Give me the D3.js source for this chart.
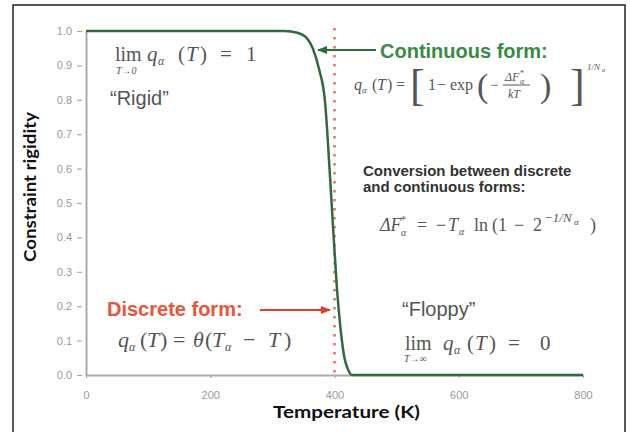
<!DOCTYPE html>
<html>
<head>
<meta charset="utf-8">
<script src="https://cdn.jsdelivr.net/npm/d3@7/dist/d3.min.js"></script>
<style>
  body { margin: 0; background: #fff; }
  svg { display: block; }
</style>
</head>
<body>
<div id="chart"></div>
<script>
// chart values
var temps    = [0, 320, 340, 355, 365, 375, 385, 392, 398, 404, 410, 416, 422, 428, 800];
var rigidity = [1, 1, 0.995, 0.98, 0.95, 0.89, 0.79, 0.60, 0.42, 0.25, 0.13, 0.05, 0.015, 0, 0];
var criticalT = 400;
var xTicks = [0, 200, 400, 600, 800];
var yTicks = [0, 0.1, 0.2, 0.3, 0.4, 0.5, 0.6, 0.7, 0.8, 0.9, 1.0];

var svgWidth = 630, svgHeight = 432;
var serif = "'Liberation Serif', 'DejaVu Serif', serif";
var sans = "'Liberation Sans', Arial, sans-serif";
var mathColor = "#555";

var svg = d3.select("#chart").append("svg")
  .attr("width", svgWidth)
  .attr("height", svgHeight);

var defs = svg.append("defs");
function arrowMarker(id, color) {
  defs.append("marker")
    .attr("id", id)
    .attr("viewBox", "0 0 10 10")
    .attr("refX", 9).attr("refY", 5)
    .attr("markerWidth", 5).attr("markerHeight", 5)
    .attr("orient", "auto")
    .append("path")
    .attr("d", "M0,1 L10,5 L0,9 Z")
    .attr("fill", color);
}
arrowMarker("arrGreen", "#2f6b3c");
arrowMarker("arrRed", "#e03c28");

// outer frame
svg.append("rect")
  .attr("x", 13).attr("y", 5)
  .attr("width", 612).attr("height", 440)
  .attr("fill", "none")
  .attr("stroke", "#222")
  .attr("stroke-width", 1.5);

var xScale = d3.scaleLinear().domain([0, 800]).range([86, 583]);
var yScale = d3.scaleLinear().domain([0, 1]).range([375, 31]);

// axes
var yAxis = d3.axisLeft(yScale)
  .tickValues(yTicks)
  .tickFormat(d3.format(".1f"))
  .tickSizeInner(5).tickSizeOuter(0)
  .tickPadding(9);
var xAxis = d3.axisBottom(xScale)
  .tickValues(xTicks)
  .tickSizeInner(3).tickSizeOuter(0)
  .tickPadding(13);

var gy = svg.append("g")
  .attr("transform", "translate(" + xScale(0) + ",0)")
  .call(yAxis);
gy.selectAll(".tick line").attr("x1", -4).attr("x2", -9);

var gx = svg.append("g")
  .attr("transform", "translate(0," + yScale(0) + ")")
  .call(xAxis);

[gx, gy].forEach(function(g) {
  g.select(".domain").attr("stroke", "#aaa").attr("stroke-width", 2);
  g.selectAll(".tick line").attr("stroke", "#aaa").attr("stroke-width", 1.2);
  g.selectAll(".tick text")
    .attr("fill", "#999")
    .style("font-family", sans)
    .style("font-size", "11px");
});

// discrete form: dotted step at Tc
svg.append("line")
  .attr("x1", xScale(criticalT)).attr("x2", xScale(criticalT))
  .attr("y1", yScale(1) - 3).attr("y2", yScale(0))
  .attr("stroke", "#ec6f66")
  .attr("stroke-width", 2.5)
  .attr("stroke-dasharray", "2.5,6.5");

// continuous form curve
var line = d3.line()
  .x(function(d, i) { return xScale(temps[i]); })
  .y(function(d) { return yScale(d); })
  .curve(d3.curveMonotoneX);

svg.append("path")
  .datum(rigidity)
  .attr("d", line)
  .attr("fill", "none")
  .attr("stroke", "#2f6b3c")
  .attr("stroke-width", 2.5);

// axis titles
svg.append("text")
  .attr("x", 273).attr("y", 418)
  .attr("textLength", 147)
  .attr("lengthAdjust", "spacingAndGlyphs")
  .style("font-family", "Lato, 'DejaVu Sans', sans-serif")
  .style("font-weight", "bold")
  .style("font-size", "17px")
  .attr("fill", "#111")
  .text("Temperature (K)");

svg.append("text")
  .attr("transform", "translate(36,262) rotate(-90)")
  .attr("textLength", 150)
  .attr("lengthAdjust", "spacingAndGlyphs")
  .style("font-family", "Lato, 'DejaVu Sans', sans-serif")
  .style("font-weight", "bold")
  .style("font-size", "17px")
  .attr("fill", "#111")
  .text("Constraint rigidity");

// helper for placing text pieces
function put(x, y, str, opts) {
  opts = opts || {};
  return svg.append("text")
    .attr("x", x).attr("y", y)
    .style("font-family", opts.family || serif)
    .style("font-size", (opts.size || 16) + "px")
    .style("font-style", opts.italic ? "italic" : "normal")
    .style("font-weight", opts.bold ? "bold" : "normal")
    .attr("fill", opts.color || mathColor)
    .text(str);
}

// lim T->0 q(T) = 1
put(115, 61, "lim", {size: 20});
put(116, 74, "T→0", {size: 10, italic: true});
put(147, 61, "q", {size: 21, italic: true});
put(158, 65, "α", {size: 12, italic: true});
put(178, 61, "(", {size: 21});
put(186, 61, "T", {size: 21, italic: true});
put(200, 61, ")", {size: 21});
put(220, 61, "=", {size: 21});
put(246, 61, "1", {size: 21});
put(110, 105, "\u201CRigid\u201D", {family: sans, size: 20});

// continuous form annotation
put(380, 58, "Continuous form:", {family: sans, size: 20, bold: true, color: "#3a8a45"});
svg.append("line")
  .attr("x1", 376).attr("y1", 50)
  .attr("x2", 318).attr("y2", 50)
  .attr("stroke", "#2f6b3c").attr("stroke-width", 2)
  .attr("marker-end", "url(#arrGreen)");

put(354, 90, "q", {size: 16, italic: true});
put(362, 93, "α", {size: 9, italic: true});
put(372, 90, "(", {size: 16});
put(377, 90, "T", {size: 16, italic: true});
put(387, 90, ")", {size: 16});
put(396, 90, "=", {size: 16});
put(410, 100, "[", {size: 44});
put(428, 90, "1", {size: 16});
put(437, 90, "−", {size: 16});
put(450, 90, "exp", {size: 16});
put(477, 97, "(", {size: 34});
put(490, 90, "−", {size: 15});
put(505, 81, "ΔF", {size: 12, italic: true});
put(520, 76, "*", {size: 8});
put(520, 84, "α", {size: 8, italic: true});
svg.append("line")
  .attr("x1", 503).attr("x2", 530)
  .attr("y1", 85).attr("y2", 85)
  .attr("stroke", mathColor).attr("stroke-width", 1);
put(508, 98, "kT", {size: 12, italic: true});
put(540, 97, ")", {size: 34});
put(570, 100, "]", {size: 44});
put(587, 70, "1/N", {size: 9, italic: true});
put(602, 72, "α", {size: 6, italic: true});

// conversion note
put(363, 176, "Conversion between discrete", {family: sans, size: 15, bold: true, color: "#333"});
put(363, 192, "and continuous forms:", {family: sans, size: 15, bold: true, color: "#333"});

put(380, 231, "ΔF", {size: 18, italic: true});
put(401, 223, "*", {size: 10});
put(401, 236, "α", {size: 10, italic: true});
put(417, 231, "=", {size: 18});
put(436, 231, "−", {size: 18});
put(448, 231, "T", {size: 18, italic: true});
put(459, 235, "α", {size: 10, italic: true});
put(474, 231, "ln", {size: 18});
put(492, 231, "(1", {size: 18});
put(514, 231, "−", {size: 18});
put(533, 231, "2", {size: 18});
put(544, 222, "−1/N", {size: 13, italic: true});
put(574, 225, "α", {size: 9, italic: true});
put(590, 231, ")", {size: 18});

// discrete form annotation
put(107, 316, "Discrete form:", {family: sans, size: 20, bold: true, color: "#e8553a"});
svg.append("line")
  .attr("x1", 260).attr("y1", 310)
  .attr("x2", 330).attr("y2", 310)
  .attr("stroke", "#e03c28").attr("stroke-width", 2)
  .attr("marker-end", "url(#arrRed)");

put(118, 347, "q", {size: 22, italic: true});
put(129, 351, "α", {size: 12, italic: true});
put(140, 347, "(", {size: 22});
put(147, 347, "T", {size: 22, italic: true});
put(160, 347, ")", {size: 22});
put(173, 347, "=", {size: 22});
put(193, 347, "θ", {size: 22, italic: true});
put(205, 347, "(", {size: 22});
put(212, 347, "T", {size: 22, italic: true});
put(225, 351, "α", {size: 12, italic: true});
put(243, 347, "−", {size: 22});
put(268, 347, "T", {size: 22, italic: true});
put(284, 347, ")", {size: 22});

// floppy side
put(402, 316, "\u201CFloppy\u201D", {family: sans, size: 20});
put(405, 350, "lim", {size: 20});
put(404, 362, "T→∞", {size: 10, italic: true});
put(443, 350, "q", {size: 21, italic: true});
put(454, 354, "α", {size: 12, italic: true});
put(467, 350, "(", {size: 21});
put(475, 350, "T", {size: 21, italic: true});
put(489, 350, ")", {size: 21});
put(508, 350, "=", {size: 21});
put(540, 350, "0", {size: 21});
</script>
</body>
</html>
